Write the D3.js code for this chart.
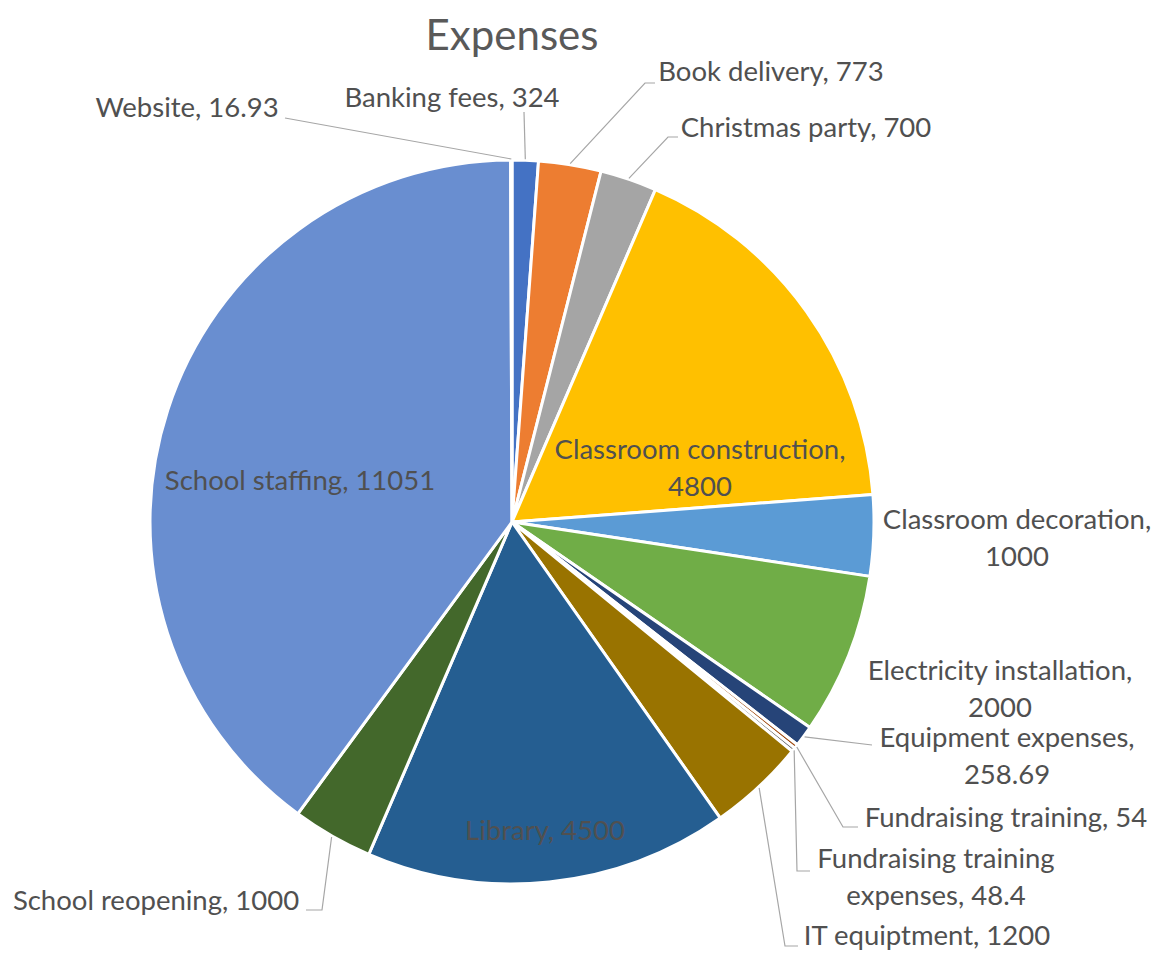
<!DOCTYPE html>
<html>
<head>
<meta charset="utf-8">
<script src="https://cdn.jsdelivr.net/npm/d3@7"></script>
<style>
  body { margin: 0; background: #fff; }
  text { font-family: Lato, "Open Sans", sans-serif; fill: #595959; }
</style>
</head>
<body>
<script>
// datos del grafico
let categorias = ["Banking fees", "Book delivery", "Christmas party", "Classroom construction",
    "Classroom decoration", "Electricity installation", "Equipment expenses", "Fundraising training",
    "Fundraising training expenses", "IT equiptment", "Library", "School reopening", "School staffing", "Website"];
let valores = [324, 773, 700, 4800, 1000, 2000, 258.69, 54, 48.4, 1200, 4500, 1000, 11051, 16.93];
let colores = ["#4472C4", "#ED7D31", "#A5A5A5", "#FFC000", "#5B9BD5", "#70AD47", "#264478",
    "#9E480E", "#636363", "#997300", "#255E91", "#43682B", "#698ED0", "#F1975A"];

let w = 1159, h = 953;
let cx = 512, cy = 522, r = 362;

// donde va cada etiqueta (centro del texto) y su linea guia
let etiquetas = {
    "Banking fees":            { x: 452, y: 97,  lineas: ["Banking fees, 324"], guia: [[524, 112]] },
    "Book delivery":           { x: 771, y: 71,  lineas: ["Book delivery, 773"], guia: [[645, 83], [655, 83]] },
    "Christmas party":         { x: 806, y: 127, lineas: ["Christmas party, 700"], guia: [[668, 137], [678, 137]] },
    "Classroom construction":  { x: 700, y: 449, lineas: ["Classroom construction,", "4800"] },
    "Classroom decoration":    { x: 1017, y: 519, lineas: ["Classroom decoration,", "1000"] },
    "Electricity installation":{ x: 1000, y: 670, lineas: ["Electricity installation,", "2000"] },
    "Equipment expenses":      { x: 1007, y: 737, lineas: ["Equipment expenses,", "258.69"], guia: [[872, 745]] },
    "Fundraising training":    { x: 1006, y: 817, lineas: ["Fundraising training, 54"], guia: [[843, 827], [858, 827]] },
    "Fundraising training expenses": { x: 936, y: 858, lineas: ["Fundraising training", "expenses, 48.4"], guia: [[797, 871], [810, 871]] },
    "IT equiptment":           { x: 927, y: 935, lineas: ["IT equiptment, 1200"], guia: [[785, 946], [798, 946]] },
    "Library":                 { x: 545, y: 830, lineas: ["Library, 4500"] },
    "School reopening":        { x: 156, y: 900, lineas: ["School reopening, 1000"], guia: [[322, 910], [306, 910]] },
    "School staffing":         { x: 300, y: 480, lineas: ["School staffing, 11051"] },
    "Website":                 { x: 187, y: 107, lineas: ["Website, 16.93"], guia: [[285, 118]] }
};

let svg = d3.select("body").append("svg")
    .attr("width", w)
    .attr("height", h);

svg.append("text")
    .text("Expenses")
    .attr("x", cx)
    .attr("y", 50)
    .attr("text-anchor", "middle")
    .style("font-size", "42px");

let datos = categorias.map((c, i) => ({ nombre: c, valor: valores[i], color: colores[i] }));

let pie = d3.pie().sort(null).value(d => d.valor);
let arco = d3.arc().innerRadius(0).outerRadius(r);
let trozos = pie(datos);

let g = svg.append("g").attr("transform", `translate(${cx},${cy})`);

g.selectAll("path")
    .data(trozos)
    .enter()
    .append("path")
    .attr("d", arco)
    .attr("fill", d => d.data.color)
    .attr("stroke", "#fff")
    .attr("stroke-width", 3)
    .attr("stroke-linejoin", "round");

// lineas guia: desde el borde del trozo hasta la etiqueta
trozos.forEach(d => {
    let e = etiquetas[d.data.nombre];
    if (!e.guia) return;
    let a = (d.startAngle + d.endAngle) / 2;
    let p0 = [cx + Math.sin(a) * (r + 1), cy - Math.cos(a) * (r + 1)];
    let puntos = [p0].concat(e.guia);
    svg.append("path")
        .attr("d", d3.line()(puntos))
        .attr("fill", "none")
        .attr("stroke", "#a6a6a6")
        .attr("stroke-width", 1.2);
});

trozos.forEach(d => {
    let e = etiquetas[d.data.nombre];
    let t = svg.append("text")
        .attr("text-anchor", "middle")
        .style("font-size", "27.5px")
        .style("fill", "#505050");
    e.lineas.forEach((l, i) => {
        t.append("tspan")
            .attr("x", e.x)
            .attr("y", e.y + 10 + i * 37)
            .text(l);
    });
});
</script>
</body>
</html>
